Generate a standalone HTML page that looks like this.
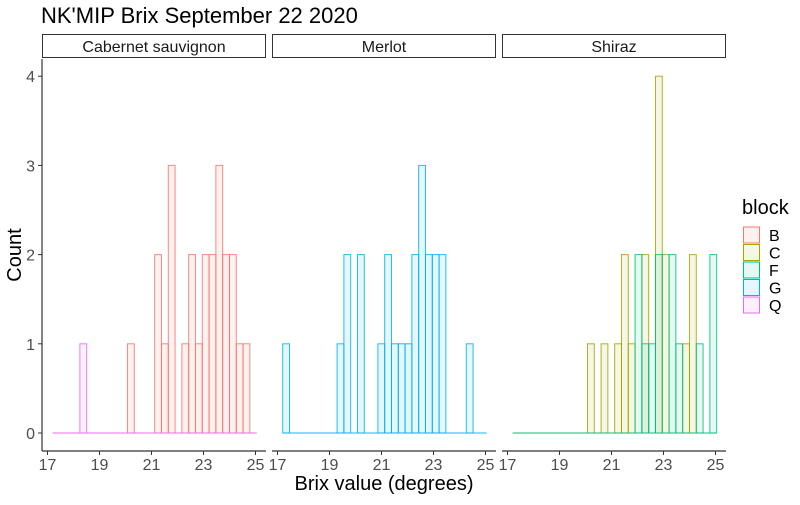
<!DOCTYPE html>
<html><head><meta charset="utf-8"><style>
body{margin:0;background:#fff;font-family:"Liberation Sans",sans-serif}
svg text{font-family:"Liberation Sans",sans-serif}
</style></head><body>
<svg id="c" width="800" height="500" xmlns="http://www.w3.org/2000/svg">
<text x="41" y="23" font-size="22" fill="#000">NK'MIP Brix September 22 2020</text>
<text x="384" y="490" font-size="20" text-anchor="middle" fill="#000">Brix value (degrees)</text>
<text transform="translate(21,255) rotate(-90)" font-size="20" text-anchor="middle" fill="#000">Count</text>
<g id="plot"></g>
<g id="legend">
<text x="742" y="214" font-size="20" fill="#000">block</text>
</g>
</svg>
<script>
const facets = ["Cabernet sauvignon","Merlot","Shiraz"];
const blocks = ["B","C","F","G","Q"];
const colors = {B:"#F8766D",C:"#A3A500",F:"#00BF7D",G:"#00B0F6",Q:"#E76BF3"};
const binStart = 17.2;
const binWidth = 0.2615;
const nBins = 30;
const cabB = {11:1,15:2,16:1,17:3,19:1,20:2,21:1,22:2,23:2,24:3,25:2,26:2,27:1,28:1};
const cabQ = {4:1};
const merG = {0:1,8:1,9:2,11:2,14:1,15:2,16:1,17:1,18:1,19:2,20:3,21:2,22:2,23:2,27:1};
const shiC = {11:1,13:1,15:1,16:2,17:1,19:2,21:4,22:2,25:1,26:2};
const shiF = {18:2,19:1,20:1,21:2,23:2,24:1,27:1,29:2};
const series = [
  {facet:0, block:"B", counts:cabB},
  {facet:0, block:"Q", counts:cabQ},
  {facet:1, block:"G", counts:merG},
  {facet:2, block:"C", counts:shiC},
  {facet:2, block:"F", counts:shiF}
];
const xTicks = [17,19,21,23,25];
const yTicks = [0,1,2,3,4];

const NS="http://www.w3.org/2000/svg";
const plot=document.getElementById('plot');
function mk(tag,attrs,parent){const e=document.createElementNS(NS,tag);for(const k in attrs)e.setAttribute(k,attrs[k]);(parent||plot).appendChild(e);return e;}
const panelX=[42,272,502], panelW=224, plotTop=59, plotBottom=451;
function xs(p,v){return panelX[p]+5.5+(v-17)*26;}
function ys(v){return 433-v*89.2;}

facets.forEach((f,p)=>{
  const s=mk('rect',{x:panelX[p]+0.5,y:34.5,width:panelW-1,height:23,fill:"#fff",stroke:"#333","stroke-width":1});
  
  
  const t=mk('text',{x:panelX[p]+panelW/2,y:52,"font-size":16,"text-anchor":"middle",fill:"#1a1a1a"});
  t.textContent=f;
  
  
  const ax=mk('line',{x1:panelX[p],x2:panelX[p]+panelW,y1:plotBottom,y2:plotBottom,stroke:"#333","stroke-width":1.2});
  
  
  xTicks.forEach(v=>{
    const tk=mk('line',{x1:xs(p,v),x2:xs(p,v),y1:plotBottom,y2:plotBottom+4,stroke:"#333"});
    
    
    const tl=mk('text',{x:xs(p,v),y:plotBottom+19,"font-size":16,"text-anchor":"middle",fill:"#4d4d4d"});
    tl.textContent=v;
    
    
  });
});
const yax=mk('line',{x1:42,x2:42,y1:plotTop,y2:plotBottom,stroke:"#333","stroke-width":1.2});


yTicks.forEach(v=>{
  const tk=mk('line',{x1:38,x2:42,y1:ys(v),y2:ys(v),stroke:"#333"});
  
  
  const tl=mk('text',{x:35,y:ys(v)+6,"font-size":16,"text-anchor":"end",fill:"#4d4d4d"});
  tl.textContent=v;
  
  
});

series.forEach(s=>{
  const col=colors[s.block];
  const x0=xs(s.facet,binStart), x1=xs(s.facet,binStart+nBins*binWidth);
  const bl=mk('line',{x1:x0,x2:x1,y1:ys(0),y2:ys(0),stroke:col,"stroke-width":1,opacity:0.9});
  
  
  for(let k=0;k<nBins;k++){
    const c=s.counts[k]||0;
    if(!c)continue;
    const a=xs(s.facet,binStart+k*binWidth), b=xs(s.facet,binStart+(k+1)*binWidth);
    const r=mk('rect',{x:a,y:ys(c),width:b-a,height:ys(0)-ys(c),fill:col,"fill-opacity":0.1,stroke:col,"stroke-width":1,"stroke-opacity":0.85});
    
    
  }
});

const lg=document.getElementById('legend');
blocks.forEach((b,i)=>{
  const y=235+i*17.5;
  const r=mk('rect',{x:743.5,y:y-8,width:16,height:16,fill:colors[b],"fill-opacity":0.1,stroke:colors[b],"stroke-width":1},lg);
  
  
  const t=mk('text',{x:769,y:y+6,"font-size":16,fill:"#000"},lg);
  t.textContent=b;
  
  
});
</script>
</body></html>
